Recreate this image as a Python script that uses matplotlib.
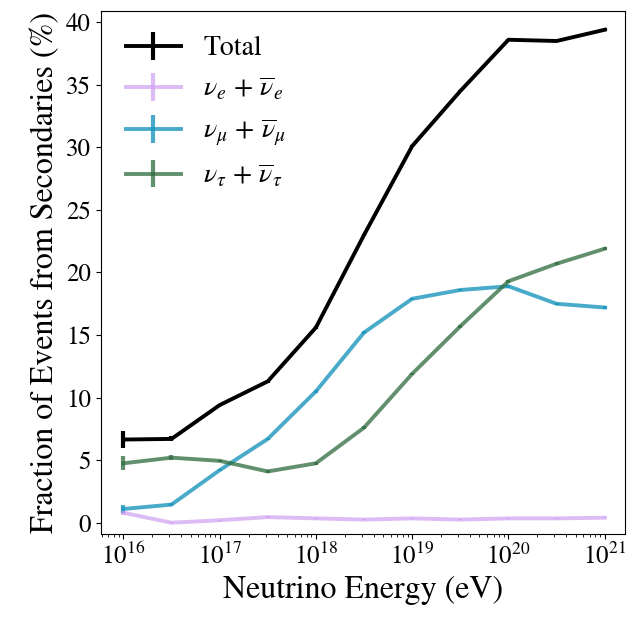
import numpy as np
import matplotlib
matplotlib.use("Agg")
import matplotlib.pyplot as plt

plt.rcParams['font.family'] = 'STIXGeneral'
plt.rcParams['mathtext.fontset'] = 'stix'

energy = [1e16, 10**16.5, 1e17, 10**17.5, 1e18, 10**18.5, 1e19, 10**19.5, 1e20, 10**20.5, 1e21]
total = [6.65, 6.7, 9.4, 11.3, 15.6, 23.0, 30.1, 34.5, 38.6, 38.5, 39.4]
total_err = [0.7, 0.2, 0.1, 0.1, 0.1, 0.1, 0.1, 0.1, 0.1, 0.1, 0.1]
nue = [0.8, 0.0, 0.2, 0.45, 0.35, 0.25, 0.35, 0.25, 0.35, 0.35, 0.4]
nue_err = [0.15, 0.05, 0.05, 0.05, 0.05, 0.05, 0.05, 0.05, 0.05, 0.05, 0.05]
numu = [1.1, 1.45, 4.2, 6.7, 10.5, 15.2, 17.9, 18.6, 18.9, 17.5, 17.2]
numu_err = [0.3, 0.15, 0.1, 0.1, 0.1, 0.1, 0.1, 0.1, 0.1, 0.1, 0.1]
nutau = [4.75, 5.2, 4.95, 4.1, 4.75, 7.6, 11.9, 15.7, 19.3, 20.7, 21.9]
nutau_err = [0.55, 0.2, 0.1, 0.1, 0.1, 0.1, 0.1, 0.1, 0.1, 0.1, 0.1]

fig, ax = plt.subplots(figsize=(6.39, 6.2), dpi=100)
fig.subplots_adjust(left=0.1576, right=0.978, top=0.9823, bottom=0.1387)

lw = 2.8
ax.errorbar(energy, total, yerr=total_err, color='black', lw=lw, capsize=0, elinewidth=3, label='Total')
ax.errorbar(energy, nue, yerr=nue_err, color='#cf9ff0', alpha=0.7, lw=lw, capsize=0, elinewidth=3, label=r'$\nu_e\,+\,\overline{\nu}_e$')
ax.errorbar(energy, numu, yerr=numu_err, color='#1b95bd', alpha=0.8, lw=lw, capsize=0, elinewidth=3, label=r'$\nu_\mu\,+\,\overline{\nu}_\mu$')
ax.errorbar(energy, nutau, yerr=nutau_err, color='#2e6b3e', alpha=0.75, lw=lw, capsize=0, elinewidth=3, label=r'$\nu_\tau\,+\,\overline{\nu}_\tau$')

ax.set_xscale('log')
ax.set_xlim(10**15.765, 10**21.21)
ax.set_ylim(-0.9, 40.9)
ax.set_xticks([1e16, 1e17, 1e18, 1e19, 1e20, 1e21])
ax.set_yticks([0, 5, 10, 15, 20, 25, 30, 35, 40])
ax.tick_params(labelsize=18)
ax.set_xlabel('Neutrino Energy (eV)', fontsize=23)
ax.set_ylabel('Fraction of Events from Secondaries (%)', fontsize=23)
ax.legend(loc='upper left', fontsize=20, frameon=False)

fig.savefig('out.png', dpi=100)
